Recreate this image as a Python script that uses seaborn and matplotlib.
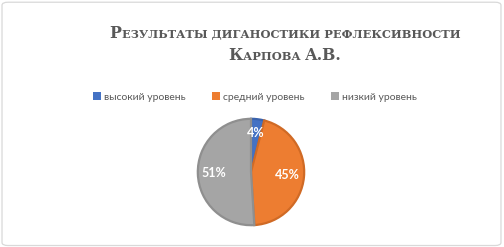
import matplotlib
matplotlib.use("Agg")
import matplotlib.pyplot as plt
import seaborn as sns
import numpy as np
from matplotlib.patches import FancyBboxPatch

categories = ["высокий уровень", "средний уровень", "низкий уровень"]
values = [4, 45, 51]
labels = ["4%", "45%", "51%"]
colors = ["#4472C4", "#ED7D31", "#A5A5A5"]
edge_colors = ["#3A63AD", "#D06A25", "#8F8F8F"]

sns.set_theme(style="white")
plt.rcParams['font.family'] = ['DejaVu Sans']

fig = plt.figure(figsize=(5.04, 2.47), dpi=100)
fig.patch.set_facecolor("white")

# border
border = FancyBboxPatch((0.004, 0.006), 0.99, 0.985, boxstyle="round,pad=0,rounding_size=0.012",
                        transform=fig.transFigure, fill=False, edgecolor="#D9D9D9", linewidth=0.9)
fig.patches.append(border)

# title with small caps emulation
def draw_smallcaps(pieces, cx, y, color="#595959"):
    renderer = fig.canvas.get_renderer()
    texts = []
    total = 0
    for s, size in pieces:
        t = fig.text(0, y, s, fontsize=size, fontfamily="DejaVu Serif", fontweight="bold",
                     color=color, va="baseline", ha="left")
        w = t.get_window_extent(renderer).width
        texts.append((t, w))
        total += w
    x = cx * fig.bbox.width - total / 2
    for t, w in texts:
        t.set_x(x / fig.bbox.width)
        x += w

B, S = 11.3, 8.2
line1 = [("Р", B), ("ЕЗУЛЬТАТЫ ДИГАНОСТИКИ РЕФЛЕКСИВНОСТИ", S)]
line2 = [("К", B), ("АРПОВА ", S), ("А.В.", B)]
draw_smallcaps(line1, 285 / 504, 1 - 38 / 247)
draw_smallcaps(line2, 285 / 504, 1 - 60 / 247)

# pie
R = 54
ax = fig.add_axes([(251 - R) / 504, 1 - (172 + R) / 247, 2 * R / 504, 2 * R / 247])
wedges, texts = ax.pie(values, colors=colors, startangle=90, counterclock=False,
                       wedgeprops=dict(linewidth=1.6), radius=0.985)
for w, ec in zip(wedges, edge_colors):
    w.set_edgecolor(ec)
ax.set_xlim(-1, 1)
ax.set_ylim(-1, 1)
ax.set_aspect("equal")
cum = 0
for v, lab in zip(values, labels):
    mid = 90 - (cum + v / 2) * 3.6
    cum += v
    r = 0.68 if v > 10 else 0.72
    ax.text(r * np.cos(np.radians(mid)), r * np.sin(np.radians(mid)), lab,
            ha="center", va="center", color="white", fontsize=9, fontweight="bold",
            fontfamily="Lato")

# legend
handles = [plt.Rectangle((0, 0), 1, 1, facecolor=c, edgecolor="none") for c in colors]
fig.legend(handles, categories, loc="center", bbox_to_anchor=(255 / 504, 1 - 97 / 247),
           ncol=3, frameon=False, prop=dict(family="Lato", size=7.5), handlelength=0.7,
           handleheight=0.7, handletextpad=0.3, columnspacing=2.6, labelcolor="#595959")

fig.savefig("out.png", dpi=100, facecolor="white")
